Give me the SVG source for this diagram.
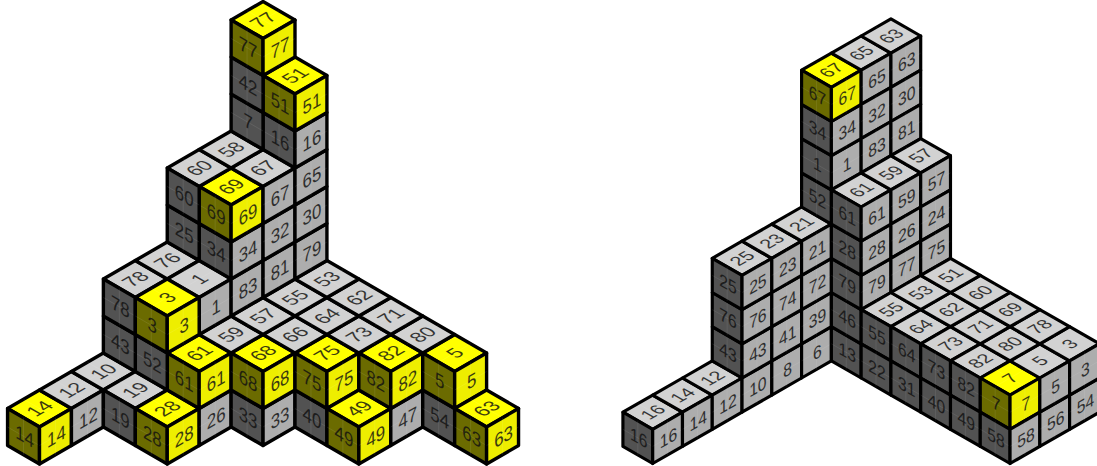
<svg xmlns="http://www.w3.org/2000/svg" xmlns:xlink="http://www.w3.org/1999/xlink" width="1097" height="466" viewBox="0 0 1097 466">
<style>
.f{stroke:#000;stroke-width:3.4;stroke-linejoin:round}
.m{stroke:#fff;stroke-opacity:.11;stroke-width:.8;fill:none}
.yt{fill:#ffff00}.yl{fill:#6b6b00}.yr{fill:#eeee00}
.gt{fill:#d2d2d2}.gl{fill:#525252}.gr{fill:#adadad}
text{font-family:"Liberation Sans",Arial,sans-serif;font-size:19.5px;text-anchor:middle;fill:#111;opacity:.82}
.t{transform:matrix(.866,-.5,.866,.5,5.9,-15.1)}
.l{transform:matrix(.866,.5,0,1,-15,16)}
.r{transform:matrix(.866,-.5,0,1,17,16)}
</style>
<defs>
<g id="T"><polygon class="f" points="0,0 32,-18.5 0,-37 -32,-18.5"/><path class="m" d="M-16,-9.25 16,-27.75M16,-9.25-16,-27.75"/></g>
<g id="L"><polygon class="f" points="0,0 0,37 -32,18.5 -32,-18.5"/><path class="m" d="M-32,0 0,18.5M-16,-9.25V27.75"/></g>
<g id="R"><polygon class="f" points="0,0 32,-18.5 32,18.5 0,37"/><path class="m" d="M0,18.5 32,0M16,-9.25V27.75"/></g>
</defs>
<g id="left-stack" transform="translate(39.5 427) scale(.998 1)">
<g id="a14" transform="translate(0 0)"><use href="#T" class="yt"/><text class="t">14</text><use href="#L" class="yl"/><text class="l">14</text><use href="#R" class="yr"/><text class="r">14</text></g>
<g id="a12" transform="translate(32 -18.5)"><use href="#T" class="gt"/><text class="t">12</text><use href="#R" class="gr"/><text class="r">12</text></g>
<g id="a10" transform="translate(64 -37)"><use href="#T" class="gt"/><text class="t">10</text></g>
<g id="a19" transform="translate(96 -18.5)"><use href="#T" class="gt"/><text class="t">19</text><use href="#L" class="gl"/><text class="l">19</text></g>
<g id="a28" transform="translate(128 0)"><use href="#T" class="yt"/><text class="t">28</text><use href="#L" class="yl"/><text class="l">28</text><use href="#R" class="yr"/><text class="r">28</text></g>
<g id="a26" transform="translate(160 -18.5)"><use href="#R" class="gr"/><text class="r">26</text></g>
<g id="a61" transform="translate(160 -55.5)"><use href="#T" class="yt"/><text class="t">61</text><use href="#L" class="yl"/><text class="l">61</text><use href="#R" class="yr"/><text class="r">61</text></g>
<g id="a33" transform="translate(224 -18.5)"><use href="#L" class="gl"/><text class="l">33</text><use href="#R" class="gr"/><text class="r">33</text></g>
<g id="a68" transform="translate(224 -55.5)"><use href="#T" class="yt"/><text class="t">68</text><use href="#L" class="yl"/><text class="l">68</text><use href="#R" class="yr"/><text class="r">68</text></g>
<g id="a40" transform="translate(288 -18.5)"><use href="#L" class="gl"/><text class="l">40</text></g>
<g id="a75" transform="translate(288 -55.5)"><use href="#T" class="yt"/><text class="t">75</text><use href="#L" class="yl"/><text class="l">75</text><use href="#R" class="yr"/><text class="r">75</text></g>
<g id="a49" transform="translate(320 0)"><use href="#T" class="yt"/><text class="t">49</text><use href="#L" class="yl"/><text class="l">49</text><use href="#R" class="yr"/><text class="r">49</text></g>
<g id="a47" transform="translate(352 -18.5)"><use href="#R" class="gr"/><text class="r">47</text></g>
<g id="a82" transform="translate(352 -55.5)"><use href="#T" class="yt"/><text class="t">82</text><use href="#L" class="yl"/><text class="l">82</text><use href="#R" class="yr"/><text class="r">82</text></g>
<g id="a54" transform="translate(416 -18.5)"><use href="#L" class="gl"/><text class="l">54</text></g>
<g id="a5" transform="translate(416 -55.5)"><use href="#T" class="yt"/><text class="t">5</text><use href="#L" class="yl"/><text class="l">5</text><use href="#R" class="yr"/><text class="r">5</text></g>
<g id="a63" transform="translate(448 0)"><use href="#T" class="yt"/><text class="t">63</text><use href="#L" class="yl"/><text class="l">63</text><use href="#R" class="yr"/><text class="r">63</text></g>
<g id="a59" transform="translate(192 -74)"><use href="#T" class="gt"/><text class="t">59</text></g>
<g id="a66" transform="translate(256 -74)"><use href="#T" class="gt"/><text class="t">66</text></g>
<g id="a73" transform="translate(320 -74)"><use href="#T" class="gt"/><text class="t">73</text></g>
<g id="a80" transform="translate(384 -74)"><use href="#T" class="gt"/><text class="t">80</text></g>
<g id="a57" transform="translate(224 -92.5)"><use href="#T" class="gt"/><text class="t">57</text></g>
<g id="a64" transform="translate(288 -92.5)"><use href="#T" class="gt"/><text class="t">64</text></g>
<g id="a71" transform="translate(352 -92.5)"><use href="#T" class="gt"/><text class="t">71</text></g>
<g id="a55" transform="translate(256 -111)"><use href="#T" class="gt"/><text class="t">55</text></g>
<g id="a62" transform="translate(320 -111)"><use href="#T" class="gt"/><text class="t">62</text></g>
<g id="a53" transform="translate(288 -129.5)"><use href="#T" class="gt"/><text class="t">53</text></g>
<g id="a52" transform="translate(128 -74)"><use href="#L" class="gl"/><text class="l">52</text></g>
<g id="a43" transform="translate(96 -92.5)"><use href="#L" class="gl"/><text class="l">43</text></g>
<g id="a78" transform="translate(96 -129.5)"><use href="#T" class="gt"/><text class="t">78</text><use href="#L" class="gl"/><text class="l">78</text></g>
<g id="a76" transform="translate(128 -148)"><use href="#T" class="gt"/><text class="t">76</text></g>
<g id="a1" transform="translate(160 -129.5)"><use href="#T" class="gt"/><text class="t">1</text><use href="#R" class="gr"/><text class="r">1</text></g>
<g id="a3" transform="translate(128 -111)"><use href="#T" class="yt"/><text class="t">3</text><use href="#L" class="yl"/><text class="l">3</text><use href="#R" class="yr"/><text class="r">3</text></g>
<g id="a83" transform="translate(192 -148)"><use href="#R" class="gr"/><text class="r">83</text></g>
<g id="a34" transform="translate(192 -185)"><use href="#L" class="gl"/><text class="l">34</text><use href="#R" class="gr"/><text class="r">34</text></g>
<g id="a69" transform="translate(192 -222)"><use href="#T" class="yt"/><text class="t">69</text><use href="#L" class="yl"/><text class="l">69</text><use href="#R" class="yr"/><text class="r">69</text></g>
<g id="a81" transform="translate(224 -166.5)"><use href="#R" class="gr"/><text class="r">81</text></g>
<g id="a32" transform="translate(224 -203.5)"><use href="#R" class="gr"/><text class="r">32</text></g>
<g id="a67" transform="translate(224 -240.5)"><use href="#T" class="gt"/><text class="t">67</text><use href="#R" class="gr"/><text class="r">67</text></g>
<g id="a79" transform="translate(256 -185)"><use href="#R" class="gr"/><text class="r">79</text></g>
<g id="a30" transform="translate(256 -222)"><use href="#R" class="gr"/><text class="r">30</text></g>
<g id="a65" transform="translate(256 -259)"><use href="#R" class="gr"/><text class="r">65</text></g>
<g id="a16" transform="translate(256 -296)"><use href="#L" class="gl"/><text class="l">16</text><use href="#R" class="gr"/><text class="r">16</text></g>
<g id="a51" transform="translate(256 -333)"><use href="#T" class="yt"/><text class="t">51</text><use href="#L" class="yl"/><text class="l">51</text><use href="#R" class="yr"/><text class="r">51</text></g>
<g id="a25" transform="translate(160 -203.5)"><use href="#L" class="gl"/><text class="l">25</text></g>
<g id="a60" transform="translate(160 -240.5)"><use href="#T" class="gt"/><text class="t">60</text><use href="#L" class="gl"/><text class="l">60</text></g>
<g id="a58" transform="translate(192 -259)"><use href="#T" class="gt"/><text class="t">58</text></g>
<g id="a7" transform="translate(224 -314.5)"><use href="#L" class="gl"/><text class="l">7</text></g>
<g id="a42" transform="translate(224 -351.5)"><use href="#L" class="gl"/><text class="l">42</text></g>
<g id="a77" transform="translate(224 -388.5)"><use href="#T" class="yt"/><text class="t">77</text><use href="#L" class="yl"/><text class="l">77</text><use href="#R" class="yr"/><text class="r">77</text></g>
</g>
<g id="right-stack" transform="translate(652.7 429.3) scale(.9306 .9243)">
<g id="b16" transform="translate(0 0)"><use href="#T" class="gt"/><text class="t">16</text><use href="#L" class="gl"/><text class="l">16</text><use href="#R" class="gr"/><text class="r">16</text></g>
<g id="b14" transform="translate(32 -18.5)"><use href="#T" class="gt"/><text class="t">14</text><use href="#R" class="gr"/><text class="r">14</text></g>
<g id="b12" transform="translate(64 -37)"><use href="#T" class="gt"/><text class="t">12</text><use href="#R" class="gr"/><text class="r">12</text></g>
<g id="b10" transform="translate(96 -55.5)"><use href="#R" class="gr"/><text class="r">10</text></g>
<g id="b8" transform="translate(128 -74)"><use href="#R" class="gr"/><text class="r">8</text></g>
<g id="b6" transform="translate(160 -92.5)"><use href="#R" class="gr"/><text class="r">6</text></g>
<g id="b43" transform="translate(96 -92.5)"><use href="#L" class="gl"/><text class="l">43</text><use href="#R" class="gr"/><text class="r">43</text></g>
<g id="b41" transform="translate(128 -111)"><use href="#R" class="gr"/><text class="r">41</text></g>
<g id="b39" transform="translate(160 -129.5)"><use href="#R" class="gr"/><text class="r">39</text></g>
<g id="b76" transform="translate(96 -129.5)"><use href="#L" class="gl"/><text class="l">76</text><use href="#R" class="gr"/><text class="r">76</text></g>
<g id="b74" transform="translate(128 -148)"><use href="#R" class="gr"/><text class="r">74</text></g>
<g id="b72" transform="translate(160 -166.5)"><use href="#R" class="gr"/><text class="r">72</text></g>
<g id="b25" transform="translate(96 -166.5)"><use href="#T" class="gt"/><text class="t">25</text><use href="#L" class="gl"/><text class="l">25</text><use href="#R" class="gr"/><text class="r">25</text></g>
<g id="b23" transform="translate(128 -185)"><use href="#T" class="gt"/><text class="t">23</text><use href="#R" class="gr"/><text class="r">23</text></g>
<g id="b21" transform="translate(160 -203.5)"><use href="#T" class="gt"/><text class="t">21</text><use href="#R" class="gr"/><text class="r">21</text></g>
<g id="b52" transform="translate(192 -259)"><use href="#L" class="gl"/><text class="l">52</text></g>
<g id="b1" transform="translate(192 -296)"><use href="#L" class="gl"/><text class="l">1</text><use href="#R" class="gr"/><text class="r">1</text></g>
<g id="b34" transform="translate(192 -333)"><use href="#L" class="gl"/><text class="l">34</text><use href="#R" class="gr"/><text class="r">34</text></g>
<g id="b67" transform="translate(192 -370)"><use href="#T" class="yt"/><text class="t">67</text><use href="#L" class="yl"/><text class="l">67</text><use href="#R" class="yr"/><text class="r">67</text></g>
<g id="b65" transform="translate(224 -388.5)"><use href="#T" class="gt"/><text class="t">65</text><use href="#R" class="gr"/><text class="r">65</text></g>
<g id="b32" transform="translate(224 -351.5)"><use href="#R" class="gr"/><text class="r">32</text></g>
<g id="b83" transform="translate(224 -314.5)"><use href="#R" class="gr"/><text class="r">83</text></g>
<g id="b63" transform="translate(256 -407)"><use href="#T" class="gt"/><text class="t">63</text><use href="#R" class="gr"/><text class="r">63</text></g>
<g id="b30" transform="translate(256 -370)"><use href="#R" class="gr"/><text class="r">30</text></g>
<g id="b81" transform="translate(256 -333)"><use href="#R" class="gr"/><text class="r">81</text></g>
<g id="b13" transform="translate(224 -92.5)"><use href="#L" class="gl"/><text class="l">13</text></g>
<g id="b46" transform="translate(224 -129.5)"><use href="#L" class="gl"/><text class="l">46</text></g>
<g id="b79" transform="translate(224 -166.5)"><use href="#L" class="gl"/><text class="l">79</text><use href="#R" class="gr"/><text class="r">79</text></g>
<g id="b28" transform="translate(224 -203.5)"><use href="#L" class="gl"/><text class="l">28</text><use href="#R" class="gr"/><text class="r">28</text></g>
<g id="b61" transform="translate(224 -240.5)"><use href="#T" class="gt"/><text class="t">61</text><use href="#L" class="gl"/><text class="l">61</text><use href="#R" class="gr"/><text class="r">61</text></g>
<g id="b59" transform="translate(256 -259)"><use href="#T" class="gt"/><text class="t">59</text><use href="#R" class="gr"/><text class="r">59</text></g>
<g id="b26" transform="translate(256 -222)"><use href="#R" class="gr"/><text class="r">26</text></g>
<g id="b77" transform="translate(256 -185)"><use href="#R" class="gr"/><text class="r">77</text></g>
<g id="b57" transform="translate(288 -277.5)"><use href="#T" class="gt"/><text class="t">57</text><use href="#R" class="gr"/><text class="r">57</text></g>
<g id="b24" transform="translate(288 -240.5)"><use href="#R" class="gr"/><text class="r">24</text></g>
<g id="b75" transform="translate(288 -203.5)"><use href="#R" class="gr"/><text class="r">75</text></g>
<g id="b55" transform="translate(256 -111)"><use href="#T" class="gt"/><text class="t">55</text><use href="#L" class="gl"/><text class="l">55</text></g>
<g id="b64" transform="translate(288 -92.5)"><use href="#T" class="gt"/><text class="t">64</text><use href="#L" class="gl"/><text class="l">64</text></g>
<g id="b73" transform="translate(320 -74)"><use href="#T" class="gt"/><text class="t">73</text><use href="#L" class="gl"/><text class="l">73</text></g>
<g id="b82" transform="translate(352 -55.5)"><use href="#T" class="gt"/><text class="t">82</text><use href="#L" class="gl"/><text class="l">82</text></g>
<g id="b7" transform="translate(384 -37)"><use href="#T" class="yt"/><text class="t">7</text><use href="#L" class="yl"/><text class="l">7</text><use href="#R" class="yr"/><text class="r">7</text></g>
<g id="b22" transform="translate(256 -74)"><use href="#L" class="gl"/><text class="l">22</text></g>
<g id="b31" transform="translate(288 -55.5)"><use href="#L" class="gl"/><text class="l">31</text></g>
<g id="b40" transform="translate(320 -37)"><use href="#L" class="gl"/><text class="l">40</text></g>
<g id="b49" transform="translate(352 -18.5)"><use href="#L" class="gl"/><text class="l">49</text></g>
<g id="b58" transform="translate(384 0)"><use href="#L" class="gl"/><text class="l">58</text><use href="#R" class="gr"/><text class="r">58</text></g>
<g id="b56" transform="translate(416 -18.5)"><use href="#R" class="gr"/><text class="r">56</text></g>
<g id="b54" transform="translate(448 -37)"><use href="#R" class="gr"/><text class="r">54</text></g>
<g id="b5" transform="translate(416 -55.5)"><use href="#T" class="gt"/><text class="t">5</text><use href="#R" class="gr"/><text class="r">5</text></g>
<g id="b3" transform="translate(448 -74)"><use href="#T" class="gt"/><text class="t">3</text><use href="#R" class="gr"/><text class="r">3</text></g>
<g id="b80" transform="translate(384 -74)"><use href="#T" class="gt"/><text class="t">80</text></g>
<g id="b78" transform="translate(416 -92.5)"><use href="#T" class="gt"/><text class="t">78</text></g>
<g id="b71" transform="translate(352 -92.5)"><use href="#T" class="gt"/><text class="t">71</text></g>
<g id="b69" transform="translate(384 -111)"><use href="#T" class="gt"/><text class="t">69</text></g>
<g id="b62" transform="translate(320 -111)"><use href="#T" class="gt"/><text class="t">62</text></g>
<g id="b60" transform="translate(352 -129.5)"><use href="#T" class="gt"/><text class="t">60</text></g>
<g id="b53" transform="translate(288 -129.5)"><use href="#T" class="gt"/><text class="t">53</text></g>
<g id="b51" transform="translate(320 -148)"><use href="#T" class="gt"/><text class="t">51</text></g>
</g>
</svg>
